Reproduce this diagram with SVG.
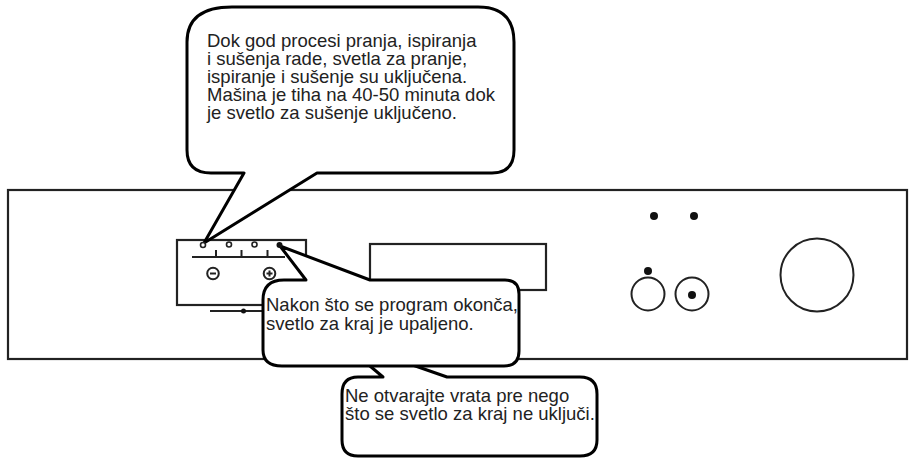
<svg xmlns="http://www.w3.org/2000/svg" width="910" height="459" viewBox="0 0 910 459">
<style>
.pan{fill:none;stroke:#222;stroke-width:2}
.pf{fill:#fff;stroke:#222;stroke-width:2.2}
.dot{fill:#111;stroke:none}
.bub{fill:#fff;stroke:#000;stroke-width:3;stroke-linejoin:round}
.t{font-family:"Liberation Sans",Arial,sans-serif;font-size:18.5px;fill:#222}
</style>
<rect width="910" height="459" fill="#fff"/>
<g id="panel">
<rect class="pf" x="8" y="190" width="899" height="169"/>
<rect class="pf" x="370" y="244" width="176" height="46"/>
<circle class="dot" cx="654" cy="216" r="4"/>
<circle class="dot" cx="694" cy="216" r="4"/>
<circle class="dot" cx="648" cy="271" r="4"/>
<circle class="pan" cx="648" cy="294" r="16.5"/>
<circle class="pan" cx="692" cy="294" r="16.5"/>
<circle class="dot" cx="692" cy="295" r="4"/>
<circle class="pan" cx="817" cy="275" r="36.5"/>
</g>
<g id="control-box">
<rect class="pf" x="177" y="240" width="129" height="65"/>
<path class="pan" d="M192,257 H285 M216,257 V250 M241.5,257 V250 M267.5,257 V250"/>
<circle class="pan" cx="213" cy="273.5" r="5.8"/>
<path class="pan" d="M210,273.5 H216"/>
<circle class="pan" cx="269.5" cy="273.5" r="5.8"/>
<path class="pan" d="M266.5,273.5 H272.5 M269.5,270.5 V276.5"/>
<path class="pan" d="M210,311 H264"/>
<circle class="dot" cx="243.5" cy="311" r="2.5"/>
</g>
<g id="bubble-door">
<path class="bub" d="M358,377 L383,377 L338,339 L447,377 L580,377 Q597,377 597,394 L597,440 Q597,456 580,456 L358,456 Q342,456 342,440 L342,394 Q342,377 358,377 Z"/>
<text class="t" x="345" y="402">Ne otvarajte vrata pre nego</text>
<text class="t" x="345" y="419.5">što se svetlo za kraj ne uključi.</text>
</g>
<g id="bubble-end">
<path class="bub" d="M284,280 L306,280 L280,246 L370,280 L505,280 Q519,280 519,294 L519,351 Q519,366 504,366 L282,366 Q263,366 263,350 L263,300 Q263,280 284,280 Z"/>
<text class="t" x="266" y="311">Nakon što se program okonča,</text>
<text class="t" x="266" y="330">svetlo za kraj je upaljeno.</text>
</g>
<g id="bubble-wash">
<path class="bub" d="M232,7 L478,7 Q514,7 514,42 L514,150 Q514,173 492,173 L317,173 L204,243 L244,173 L211,173 Q187,173 187,150 L187,42 Q187,7 232,7 Z"/>
<text class="t" x="207" y="46.5">Dok god procesi pranja, ispiranja</text>
<text class="t" x="207" y="64.7">i sušenja rade, svetla za pranje,</text>
<text class="t" x="207" y="82.9">ispiranje i sušenje su uključena.</text>
<text class="t" x="207" y="101.1">Mašina je tiha na 40-50 minuta dok</text>
<text class="t" x="207" y="119.3">je svetlo za sušenje uključeno.</text>
</g>
<g id="leds">
<circle cx="203" cy="245" r="2.5" fill="#fff" stroke="#222" stroke-width="1.6"/>
<circle cx="229" cy="244.5" r="2.5" fill="#fff" stroke="#222" stroke-width="1.6"/>
<circle cx="254.5" cy="244.5" r="2.5" fill="#fff" stroke="#222" stroke-width="1.6"/>
<circle class="dot" cx="279.5" cy="245" r="3"/>
</g>
</svg>
